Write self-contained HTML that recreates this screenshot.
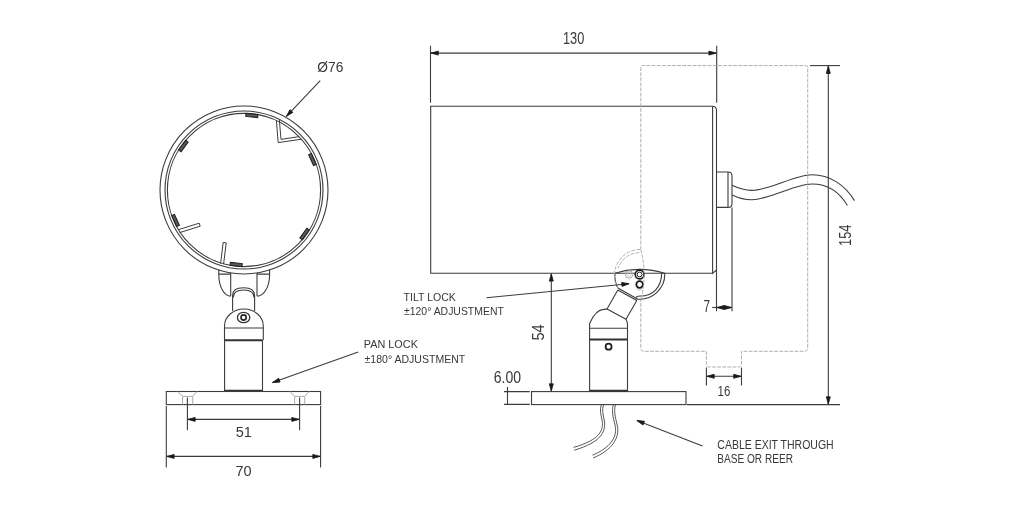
<!DOCTYPE html>
<html><head><meta charset="utf-8"><style>
html,body{margin:0;padding:0;background:#fff;width:1024px;height:513px;overflow:hidden}
svg{display:block;will-change:transform}
text{font-family:"Liberation Sans",sans-serif;fill:#383838}
</style></head><body>
<svg width="1024" height="513" viewBox="0 0 1024 513">
<defs>
<marker id="ar" viewBox="-1 -1 10 7" refX="7.7" refY="2.5" markerWidth="10" markerHeight="7" markerUnits="userSpaceOnUse" orient="auto-start-reverse"><path d="M0.4,0.5 L7.7,2.5 L0.4,4.5 Z" fill="#1a1a1a" stroke="#1a1a1a" stroke-width="0.8" stroke-linejoin="round"/></marker>
</defs>
<g fill="none" stroke="#3c3c3c" stroke-width="1.1">
<!-- LEFT VIEW: ring -->
<circle cx="244" cy="190" r="84"/>
<circle cx="244" cy="190" r="79"/>
<circle cx="244" cy="190" r="76.6"/>
</g>
<!-- tabs -->
<g fill="#5a5a5a" stroke="#1e1e1e" stroke-width="1">
<rect x="-6" y="-1.5" width="12" height="3" transform="translate(244 190) rotate(6) translate(0 -74.9)"/>
<rect x="-6" y="-1.5" width="12" height="3" transform="translate(244 190) rotate(66) translate(0 -74.9)"/>
<rect x="-6" y="-1.5" width="12" height="3" transform="translate(244 190) rotate(126) translate(0 -74.9)"/>
<rect x="-6" y="-1.5" width="12" height="3" transform="translate(244 190) rotate(186) translate(0 -74.9)"/>
<rect x="-6" y="-1.5" width="12" height="3" transform="translate(244 190) rotate(246) translate(0 -74.9)"/>
<rect x="-6" y="-1.5" width="12" height="3" transform="translate(244 190) rotate(306) translate(0 -74.9)"/>
</g>
<g fill="none" stroke="#3c3c3c" stroke-width="1">
<!-- V clip -->
<path d="M276.4,120.5 L278.2,142.6 L301.6,139.2 M279.3,119.5 L281,139.4 L299.2,136.6"/>
<!-- lower-left clip -->
<path d="M179.6,232.6 L200.2,226.2 M178.6,229.6 L199.2,223.2 M200.2,226.2 L199.2,223.2"/>
<!-- bottom clip -->
<path d="M220.6,263.5 L223.2,242.4 M223.6,264 L226.2,242.9 M223.2,242.4 L226.2,242.9"/>
</g>
<g fill="none" stroke="#3c3c3c" stroke-width="1.1">
<!-- yoke -->
<path d="M218.8,269.5 V275 A12,21.5 0 0 0 230.8,296.3"/>
<path d="M269.6,269.5 V275 A12.6,21.5 0 0 1 257,296.3"/>
<path d="M218.6,274.1 H230.7 M257,274.1 H269.7"/>
<path d="M230.7,273 V296 M257,273 V296"/>
<!-- neck -->
<path d="M232.6,311 V295.5 C232.6,290 236,287.8 243.6,287.8 C251.2,287.8 254.6,290 254.6,295.5 V311"/>
<path d="M233.2,297.5 C233.4,292.4 236.5,290 243.6,290 C250.7,290 254,292.4 254.1,297.5"/>
<!-- dome -->
<path d="M224.5,340 V326 A19.4,17 0 0 1 263.3,326 V340"/>
<path d="M224.5,328 H263.3"/>
<!-- stem body -->
<path d="M224.6,340 V391 M262.5,340 V391"/>
</g>
<path d="M224.6,340.2 H262.5 M224.6,390.8 H262.5" stroke="#333" stroke-width="2"/>
<ellipse cx="243.6" cy="317.5" rx="6.2" ry="5.2" fill="none" stroke="#333" stroke-width="1.3"/>
<circle cx="243.6" cy="317.5" r="2.6" fill="none" stroke="#222" stroke-width="1.6"/>
<g fill="none" stroke="#3c3c3c" stroke-width="1.1">
<!-- base -->
<rect x="166.3" y="391.5" width="154.3" height="13.1"/>
</g>
<g fill="none" stroke="#aaa" stroke-width="1">
<path d="M177.8,391.5 L182.5,396.4 V404.6 M197,391.5 L192.7,396.4 V404.6 M182.5,396.4 H192.7"/>
<path d="M290.1,391.5 L294.6,396.4 V404.6 M309.2,391.5 L304.7,396.4 V404.6 M294.6,396.4 H304.7"/>
</g>
<g fill="none" stroke="#3c3c3c" stroke-width="1.1">
<path d="M187.4,397.5 V430.3 M299.6,397.5 V430.3"/>
<path d="M166.3,406 V467.5 M320.6,406 V467.5"/>
<path d="M187.9,419.4 H299.1" marker-start="url(#ar)" marker-end="url(#ar)"/>
<path d="M166.8,456.4 H320.1" marker-start="url(#ar)" marker-end="url(#ar)"/>
<path d="M320.2,80.7 L286.4,116.3" marker-end="url(#ar)"/>
<path d="M358.2,352.1 L272.5,382.6" marker-end="url(#ar)"/>
</g>
<text x="243.8" y="437" font-size="14.5" text-anchor="middle">51</text>
<text x="243.6" y="476.2" font-size="14.5" text-anchor="middle">70</text>
<text x="317.3" y="72.3" font-size="15.2" textLength="26" lengthAdjust="spacingAndGlyphs">Ø76</text>
<text x="363.8" y="348.3" font-size="11.3" textLength="54.1" lengthAdjust="spacingAndGlyphs">PAN LOCK</text>
<text x="364.6" y="362.7" font-size="11.3" textLength="100.6" lengthAdjust="spacingAndGlyphs">±180° ADJUSTMENT</text>

<!-- RIGHT VIEW -->
<g fill="none" stroke="#3c3c3c" stroke-width="1.1">
<path d="M430.5,45.8 V102.8 M716.7,45.8 V102.8"/>
<path d="M431,53.1 H716.2" marker-start="url(#ar)" marker-end="url(#ar)"/>
<!-- body -->
<path d="M712.6,273.3 H430.7 V106.3 H712.6"/>
<path d="M712.6,106.3 Q716.5,106.3 716.5,110.5 V311.2 M712.6,106.3 V273.3 L716.5,270"/>
<!-- connector -->
<path d="M716.5,172 H728 Q732,172 732,176 V203.4 Q732,207.4 728,207.4 H716.5 M728,172 V207.4 M732,207.4 V311.2"/>
<!-- cable -->
<path d="M732,185.3 C740,189 746,190.6 752,190.4 C770,190 795,174.8 812,174.8 C830,174.8 845,185 854.5,200.6"/>
<path d="M732,194.9 C740,198.5 746,199.9 752,199.7 C770,199.3 795,184 812,184 C828,184 840,193 847.4,205.5"/>
<!-- 7 dim -->
<path d="M712.2,307.5 H716.5"/>
<path d="M724.2,307.5 H716.8" marker-end="url(#ar)"/>
<path d="M724.2,307.5 H731.7" marker-end="url(#ar)"/>
<!-- 154 dim -->
<path d="M810,65.6 H840"/>
<path d="M828.3,66.1 V404.1" marker-start="url(#ar)" marker-end="url(#ar)"/>
<path d="M687,404.6 H840"/>
<!-- 54 dim -->
<path d="M551.3,273.8 V391.1" marker-start="url(#ar)" marker-end="url(#ar)"/>
<!-- 6.00 dim -->
<path d="M504,391.6 H529.8 M504,404.4 H529.8 M507.5,387 V404.4"/>
<!-- base -->
<rect x="531.5" y="391.6" width="154.5" height="13"/>
<!-- stem -->
<path d="M589.6,340 V391 M627.5,325 V391"/>
<path d="M589.6,340 V323.5 C592.5,317 597.5,309.6 603.5,309.4 L607,309.1"/>
<path d="M626,319.2 Q627.5,321.5 627.5,325.5"/>
<path d="M589.6,328.3 H627.5"/>
<!-- arm -->
<path d="M618.4,288.2 L637.4,299 M617.8,289.9 L636.8,300.5 M617.8,289.9 L607,309.1 L626,319.2 L636.8,300.5"/>
<!-- bracket -->
<path d="M614.8,273.3 Q640,265.5 664.8,273.3 A25,25 0 0 1 636.7,299"/>
<path d="M615,273.3 A25,25 0 0 0 618.3,288.8"/>
<path d="M661.6,273.6 C661.6,287 653,296 640.5,296 C638.5,296 637,296.5 635.8,297.4"/>
<!-- leaders -->
<path d="M486.4,297.8 L629.1,283.7" marker-end="url(#ar)"/>
<path d="M702.5,445.9 L636.9,420.5" marker-end="url(#ar)"/>
</g>
<path d="M589.6,339.6 H627.5 M589.6,390.8 H627.5" stroke="#333" stroke-width="2"/>
<circle cx="608.6" cy="346.7" r="3" fill="none" stroke="#222" stroke-width="1.8"/>
<circle cx="639.6" cy="274.5" r="4.4" fill="#fff" stroke="#1a1a1a" stroke-width="1.6"/>
<circle cx="639.6" cy="274.5" r="2.4" fill="none" stroke="#222" stroke-width="1"/>
<path d="M636.6,288 A3.2,3.2 0 0 0 642.6,288" fill="none" stroke="#bbb" stroke-width="0.9"/>
<circle cx="639.6" cy="284.5" r="3.3" fill="#fff" stroke="#1a1a1a" stroke-width="1.8"/>
<circle cx="629" cy="274.5" r="3.7" fill="none" stroke="#aaa" stroke-width="1"/><circle cx="629" cy="274.5" r="1.9" fill="none" stroke="#c4c4c4" stroke-width="0.8"/>
<!-- dashed phantom -->
<g fill="none" stroke="#b0b0b0" stroke-width="1" stroke-dasharray="3.8 1.3">
<path d="M640.8,249.5 V67.2 Q640.8,65.6 642.4,65.6 H806.1 Q807.7,65.6 807.7,67.2 V348 Q807.7,351.3 804.5,351.3 H741.5 V364 Q741.5,367 738.5,367 H709.5 Q706.4,367 706.4,364 V351.3 H644 Q640.8,351.3 640.8,348 V300"/>
<path d="M640,249.5 A26,26 0 0 0 617.7,288.2"/>
<path d="M639.2,252.7 A22,22 0 0 0 618.3,268"/>
<path d="M640.8,249.5 Q647.5,274.5 640.8,300"/>
</g>
<!-- 16 dim -->
<g fill="none" stroke="#3c3c3c" stroke-width="1.1">
<path d="M706.4,367.5 V385.4 M741.5,367.5 V385.4"/>
<path d="M706.9,376.3 H741" marker-start="url(#ar)" marker-end="url(#ar)"/>
</g>
<!-- cables below base -->
<g fill="none" stroke="#444" stroke-width="0.9">
<path d="M601.2,405 C599.5,410 601,415 602,420 C604,430 600,440 573.6,447.4"/>
<path d="M603.4,405 C601.7,410 603.2,415 604.2,420 C606.2,431 602,442 574.2,450.2"/>
<path d="M613.2,405 C611.5,411 613,417 615,425 C618,437 610,448 592.5,455.2"/>
<path d="M615.4,405 C613.7,411 615.2,417 617.2,425 C620.2,438 612,450 593.1,458"/>
</g>
<text x="563" y="43.8" font-size="15.8" textLength="21.3" lengthAdjust="spacingAndGlyphs">130</text>
<text transform="translate(850.7 245.9) rotate(-90)" font-size="15.8" textLength="21.2" lengthAdjust="spacingAndGlyphs">154</text>
<text transform="translate(544.2 340.6) rotate(-90)" font-size="15.8" textLength="16.2" lengthAdjust="spacingAndGlyphs">54</text>
<text x="703.6" y="311.7" font-size="15.8" textLength="6.6" lengthAdjust="spacingAndGlyphs">7</text>
<text x="493.8" y="382.8" font-size="15.8" textLength="27.3" lengthAdjust="spacingAndGlyphs">6.00</text>
<text x="717.6" y="395.6" font-size="15.3" textLength="12.8" lengthAdjust="spacingAndGlyphs">16</text>
<text x="403.5" y="300.5" font-size="11.3" textLength="52.4" lengthAdjust="spacingAndGlyphs">TILT LOCK</text>
<text x="404" y="314.9" font-size="11.3" textLength="99.8" lengthAdjust="spacingAndGlyphs">±120° ADJUSTMENT</text>
<text x="717.3" y="448.7" font-size="11.9" textLength="116.4" lengthAdjust="spacingAndGlyphs">CABLE EXIT THROUGH</text>
<text x="717.3" y="463.2" font-size="11.9" textLength="75.7" lengthAdjust="spacingAndGlyphs">BASE OR REER</text>
</svg>
</body></html>
